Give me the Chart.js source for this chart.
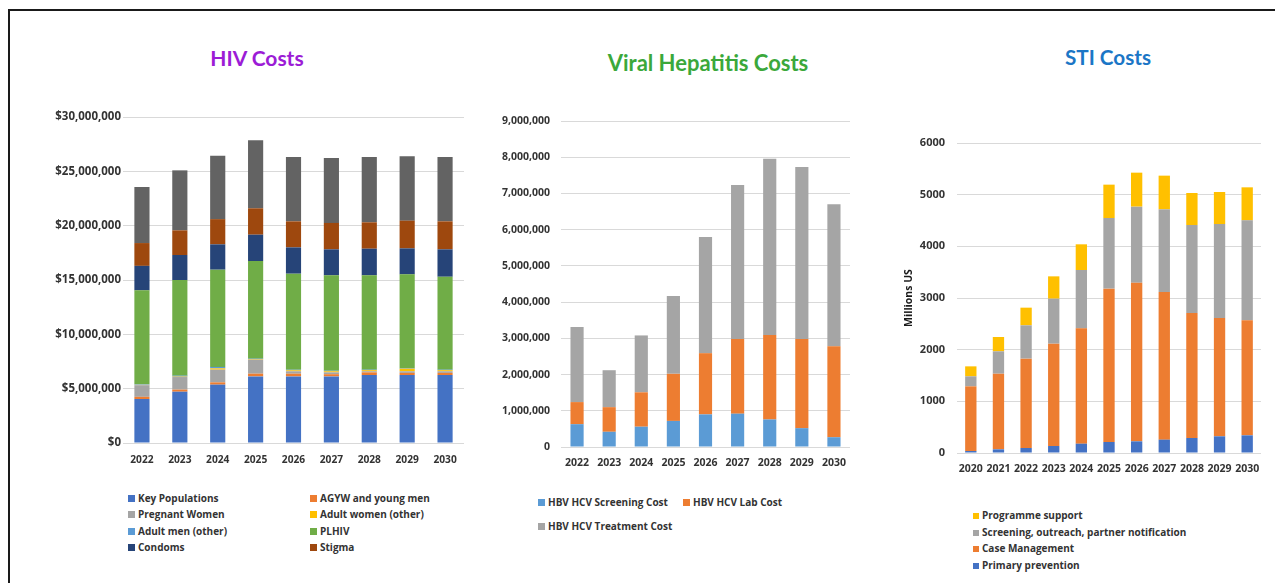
<!DOCTYPE html>
<html><head><meta charset="utf-8">
<script src="https://cdn.jsdelivr.net/npm/chart.js@4.4.1/dist/chart.umd.min.js"></script>
<style>
html,body{margin:0;padding:0;background:#fff;width:1275px;height:583px;overflow:hidden;font-family:'Open Sans','DejaVu Sans',sans-serif;}
#frame{position:absolute;left:8px;top:9px;width:1300px;height:600px;border-top:2px solid #1a1a1a;border-left:2px solid #1a1a1a;}
.title{position:absolute;font-family:Lato,'Open Sans',sans-serif;font-weight:700;font-size:20px;transform:translate(-50%,-50%);white-space:nowrap;}
.wrap{position:absolute;}
.leg{position:absolute;font-size:10px;font-weight:700;color:#333;white-space:nowrap;line-height:12px;transform:translateY(-50%);}
.leg i{display:inline-block;width:7px;height:7px;margin-right:3px;vertical-align:0px;}
</style></head>
<body>
<div id="frame"></div>
<div class="title" style="left:257px;top:57px;font-size:21px;color:#9C1CD6">HIV Costs</div>
<div class="title" style="left:708px;top:62px;font-size:22px;color:#3BA83B">Viral Hepatitis Costs</div>
<div class="title" style="left:1108px;top:57px;font-size:20.7px;color:#1B76C6">STI Costs</div>
<div class="wrap" style="left:40px;top:100px"><canvas id="hiv" width="440" height="380"></canvas></div>
<div class="wrap" style="left:490px;top:100px"><canvas id="vh" width="380" height="380"></canvas></div>
<div class="wrap" style="left:890px;top:120px"><canvas id="sti" width="385" height="380"></canvas></div>
<div id="legends"></div>
<script>
// ---------- HIV ----------
const hivYears = ['2022','2023','2024','2025','2026','2027','2028','2029','2030'];
const hivKeyPop = [4050000,4720000,5370000,6130000,6130000,6130000,6260000,6260000,6260000];
const hivAgyw = [200000,190000,210000,250000,250000,200000,240000,190000,190000];
const hivPregnant = [1070000,1160000,1170000,1290000,220000,170000,100000,150000,150000];
const hivAdultWomen = [30000,40000,120000,50000,90000,100000,100000,240000,100000];
const hivAdultMen = [50000,90000,130000,40000,50000,50000,50000,50000,50000];
const hivPlhiv = [8650000,8800000,8950000,8990000,8840000,8780000,8680000,8630000,8550000];
const hivCondoms = [2250000,2300000,2330000,2420000,2420000,2390000,2450000,2390000,2520000];
const hivStigma = [2100000,2270000,2320000,2430000,2400000,2430000,2430000,2550000,2580000];
const hivOther = [5160000,5520000,5840000,6250000,5920000,5980000,6010000,5920000,5920000];
const hivTicks = [0,5000000,10000000,15000000,20000000,25000000,30000000];

// ---------- Viral hepatitis ----------
const vhYears = ['2022','2023','2024','2025','2026','2027','2028','2029','2030'];
const vhScreening = [630000,420000,560000,720000,900000,920000,760000,520000,270000];
const vhLab = [610000,680000,950000,1300000,1690000,2060000,2330000,2460000,2510000];
const vhTreatment = [2070000,1020000,1570000,2150000,3210000,4250000,4870000,4750000,3920000];

// ---------- STI ----------
const stiYears = ['2020','2021','2022','2023','2024','2025','2026','2027','2028','2029','2030'];
const stiPrimary = [39,71,97,135,180,213,226,258,290,323,342];
const stiCase = [1251,1464,1729,1981,2233,2968,3071,2858,2420,2290,2226];
const stiScreening = [194,433,645,871,1129,1367,1471,1600,1703,1819,1935];
const stiProgramme = [193,277,342,432,497,646,658,652,619,620,639];

const C = {blue:'#4472C4',orange:'#ED7D31',gray:'#A5A5A5',gold:'#FFC000',lblue:'#5B9BD5',green:'#70AD47',navy:'#264478',brown:'#9E480E',dgray:'#636363'};
const tickColor = '#333333';
const gridColor = '#D9D9D9';
const FONT = "'Open Sans'";

function makeChart(id, labels, datasets, o){
  return new Chart(document.getElementById(id), {
    type:'bar',
    data:{labels, datasets:datasets.map(d=>({label:d.label,data:d.data,backgroundColor:d.color,borderWidth:0,barPercentage:o.bar,categoryPercentage:1}))},
    options:{
      responsive:false, animation:false,
      layout:{padding:o.pad},
      plugins:{legend:{display:false},tooltip:{enabled:false},title:{display:false}},
      scales:{
        x:{stacked:true, grid:{display:false,drawTicks:false}, border:{display:false},
           ticks:{color:tickColor,font:{family:FONT,weight:'bold',size:o.xFont},padding:o.xPad,maxRotation:0,autoSkip:false},
           afterFit:s=>{s.height=o.xH;}},
        y:{stacked:true, min:0, max:o.max, grid:{color:gridColor,lineWidth:1,drawTicks:false}, border:{display:false},
           ticks:{stepSize:o.step,color:tickColor,font:{family:FONT,weight:'bold',size:o.yFont},padding:o.yPad,callback:o.fmt},
           title:o.yTitle||{display:false},
           afterFit:s=>{s.width=o.yW;}}
      }
    }
  });
}

const hivSets = [
  {label:'Key Populations',data:hivKeyPop,color:C.blue},
  {label:'AGYW and young men',data:hivAgyw,color:C.orange},
  {label:'Pregnant Women',data:hivPregnant,color:C.gray},
  {label:'Adult women (other)',data:hivAdultWomen,color:C.gold},
  {label:'Adult men (other)',data:hivAdultMen,color:C.lblue},
  {label:'PLHIV',data:hivPlhiv,color:C.green},
  {label:'Condoms',data:hivCondoms,color:C.navy},
  {label:'Stigma',data:hivStigma,color:C.brown},
  {label:'Other',data:hivOther,color:C.dgray,hideLegend:true}
];
makeChart('hiv', hivYears, hivSets, {bar:0.4,pad:{top:17,right:16,left:0,bottom:0},xFont:10.2,xPad:11,xH:37,max:hivTicks[hivTicks.length-1],step:hivTicks[1]-hivTicks[0],yFont:11.5,yPad:2,yW:83,
  fmt:v=>'$'+Number(v).toLocaleString('en-US')});

const vhSets = [
  {label:'HBV HCV Screening Cost',data:vhScreening,color:C.lblue},
  {label:'HBV HCV Lab Cost',data:vhLab,color:C.orange},
  {label:'HBV HCV Treatment Cost',data:vhTreatment,color:C.gray}
];
makeChart('vh', vhYears, vhSets, {bar:0.41,pad:{top:21,right:20,left:0,bottom:0},xFont:10.5,xPad:10,xH:33,max:9000000,step:1000000,yFont:10.5,yPad:11,yW:71,
  fmt:v=>Number(v).toLocaleString('en-US')});

const stiSets = [
  {label:'Primary prevention',data:stiPrimary,color:C.blue},
  {label:'Case Management',data:stiCase,color:C.orange},
  {label:'Screening, outreach, partner notification',data:stiScreening,color:C.gray},
  {label:'Programme support',data:stiProgramme,color:C.gold}
];
makeChart('sti', stiYears, stiSets, {bar:0.41,pad:{top:23,right:14,left:0,bottom:0},xFont:10.5,xPad:10,xH:47,max:6000,step:1000,yFont:11,yPad:12,yW:67,
  fmt:v=>String(v),
  yTitle:{display:true,text:'Millions US',color:'#1a1a1a',font:{family:FONT,weight:'bold',size:10.5},padding:{top:13,bottom:0}}});

// ---------- HTML legends ----------
const legRoot = document.getElementById('legends');
function addLeg(item, x, y, box){
  const d = document.createElement('div');
  d.className = 'leg';
  d.style.left = x+'px'; d.style.top = y+'px';
  const i = document.createElement('i');
  i.style.background = item.color;
  i.style.width = box+'px'; i.style.height = box+'px';
  d.appendChild(i);
  d.appendChild(document.createTextNode(item.label));
  legRoot.appendChild(d);
}
hivSets.filter(s=>!s.hideLegend).forEach((s,k)=>{
  addLeg(s, k%2===0?128:310, 498 + Math.floor(k/2)*16.4, 7);
});
addLeg(vhSets[0], 538, 502, 7);
addLeg(vhSets[1], 683, 502, 7);
addLeg(vhSets[2], 538, 526, 7);
stiSets.slice().reverse().forEach((s,k)=>{
  addLeg(s, 973, 515 + k*16.7, 6);
});
</script>
</body></html>
